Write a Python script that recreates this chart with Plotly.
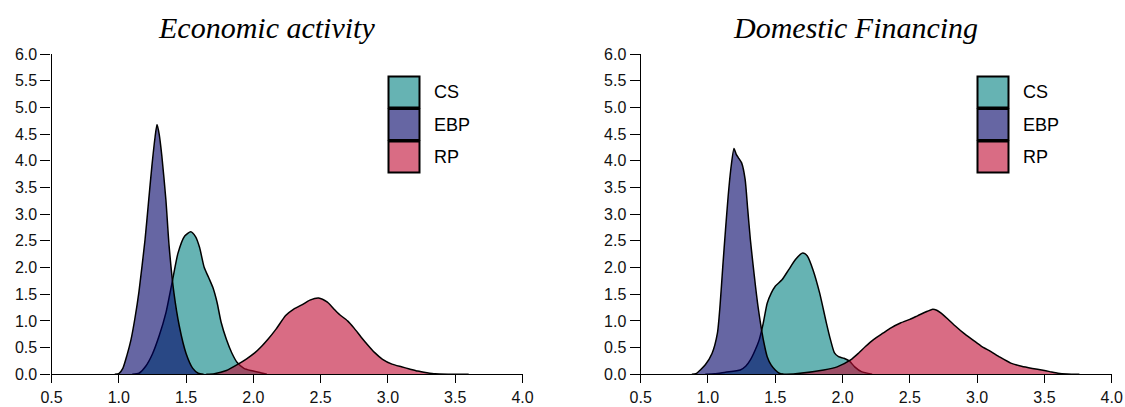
import plotly.graph_objects as go

W, H = 1125, 407

series = ["CS", "EBP", "RP"]
panel_titles = ["Economic activity", "Domestic Financing"]
x_ticks = [0.5, 1.0, 1.5, 2.0, 2.5, 3.0, 3.5, 4.0]
y_ticks = [0.0, 0.5, 1.0, 1.5, 2.0, 2.5, 3.0, 3.5, 4.0, 4.5, 5.0, 5.5, 6.0]

# ---- Economic activity (posterior densities) ----
ea_cs_x = [1.10, 1.15, 1.20, 1.25, 1.30, 1.35, 1.40, 1.44, 1.49, 1.535, 1.57, 1.60, 1.635, 1.67,
           1.70, 1.73, 1.76, 1.80, 1.84, 1.88, 1.93, 1.98, 2.04, 2.10]
ea_cs_y = [0.0, 0.02, 0.15, 0.38, 0.72, 1.15, 1.77, 2.27, 2.59, 2.67, 2.58, 2.38, 2.00, 1.80,
           1.62, 1.35, 0.98, 0.65, 0.40, 0.22, 0.11, 0.07, 0.04, 0.0]
ea_ebp_x = [0.97, 1.00, 1.03, 1.06, 1.09, 1.12, 1.15, 1.195, 1.22, 1.246, 1.27, 1.284, 1.30, 1.32,
            1.35, 1.374, 1.41, 1.45, 1.50, 1.55, 1.59, 1.63]
ea_ebp_y = [0.0, 0.01, 0.11, 0.35, 0.64, 1.05, 1.55, 2.52, 3.20, 3.90, 4.45, 4.68, 4.50, 4.09,
            3.27, 2.40, 1.52, 0.90, 0.39, 0.11, 0.02, 0.0]
ea_rp_x = [1.65, 1.71, 1.80, 1.88, 1.95, 2.01, 2.06, 2.11, 2.17, 2.24, 2.30, 2.36, 2.42, 2.485,
           2.55, 2.60, 2.64, 2.70, 2.75, 2.80, 2.85, 2.90, 2.96, 3.03, 3.10, 3.16, 3.22, 3.29,
           3.35, 3.45, 3.60]
ea_rp_y = [0.0, 0.01, 0.07, 0.18, 0.29, 0.40, 0.52, 0.66, 0.85, 1.10, 1.22, 1.30, 1.39, 1.43,
           1.35, 1.22, 1.12, 1.00, 0.86, 0.70, 0.55, 0.41, 0.28, 0.19, 0.14, 0.10, 0.06, 0.03,
           0.01, 0.003, 0.0]

# ---- Domestic Financing ----
df_cs_x = [0.98, 1.05, 1.13, 1.24, 1.28, 1.315, 1.35, 1.38, 1.41, 1.44, 1.47, 1.50, 1.55, 1.60,
           1.65, 1.70, 1.72, 1.74, 1.78, 1.83, 1.88, 1.91, 1.94, 1.97, 2.01, 2.05, 2.09, 2.14, 2.22]
df_cs_y = [0.0, 0.01, 0.04, 0.08, 0.15, 0.27, 0.45, 0.64, 0.95, 1.33, 1.52, 1.65, 1.77, 1.96,
           2.15, 2.27, 2.26, 2.21, 1.96, 1.52, 0.96, 0.65, 0.40, 0.33, 0.30, 0.25, 0.14, 0.05, 0.0]
df_ebp_x = [0.88, 0.91, 0.98, 1.03, 1.07, 1.09, 1.11, 1.13, 1.15, 1.17, 1.193, 1.21, 1.225, 1.25,
            1.276, 1.295, 1.315, 1.335, 1.353, 1.37, 1.39, 1.415, 1.44, 1.47, 1.50, 1.53, 1.56]
df_ebp_y = [0.0, 0.01, 0.18, 0.39, 0.77, 1.30, 2.02, 2.70, 3.34, 3.85, 4.23, 4.12, 4.06, 3.96,
            3.65, 3.10, 2.52, 2.05, 1.65, 1.30, 0.96, 0.60, 0.33, 0.17, 0.08, 0.02, 0.0]
df_rp_x = [1.55, 1.65, 1.86, 1.96, 2.06, 2.12, 2.17, 2.23, 2.30, 2.36, 2.43, 2.50, 2.56, 2.63,
           2.67, 2.70, 2.73, 2.78, 2.84, 2.90, 2.97, 3.03, 3.10, 3.17, 3.25, 3.33, 3.41, 3.48,
           3.54, 3.60, 3.67, 3.76]
df_rp_y = [0.0, 0.01, 0.08, 0.14, 0.27, 0.40, 0.52, 0.65, 0.77, 0.87, 0.96, 1.03, 1.10, 1.18,
           1.22, 1.20, 1.15, 1.04, 0.90, 0.77, 0.64, 0.53, 0.43, 0.32, 0.21, 0.15, 0.11, 0.08,
           0.05, 0.02, 0.005, 0.0]

panels = [
    {"CS": (ea_cs_x, ea_cs_y), "EBP": (ea_ebp_x, ea_ebp_y), "RP": (ea_rp_x, ea_rp_y)},
    {"CS": (df_cs_x, df_cs_y), "EBP": (df_ebp_x, df_ebp_y), "RP": (df_rp_x, df_rp_y)},
]

fill_colors = {"CS": "rgba(0,128,128,0.6)", "EBP": "rgba(0,0,102,0.6)", "RP": "rgba(192,10,50,0.6)"}

# pixel layout helpers
def px(x):
    return x / W

def py(y):
    return 1 - y / H

x_domains = [(51.5, 522.5), (640.7, 1111.7)]
y_top, y_bot = 54.0, 374.3

fig = go.Figure()
axis_font = dict(family="Liberation Sans, Arial, sans-serif", size=16, color="#111111")

for i, data in enumerate(panels):
    xa = "x" if i == 0 else "x2"
    ya = "y" if i == 0 else "y2"
    for s in series:
        xs, ys = data[s]
        fig.add_trace(go.Scatter(
            x=xs, y=ys, xaxis=xa, yaxis=ya, mode="lines",
            line=dict(color="black", width=1.5, shape="spline", smoothing=0.6),
            fill="tozeroy", fillcolor=fill_colors[s], showlegend=False, hoverinfo="skip",
        ))

common_axis = dict(showline=True, linecolor="black", linewidth=1.3, ticks="outside",
                   tickwidth=1.3, tickcolor="black", showgrid=False,
                   zeroline=False, tickfont=axis_font, automargin=False)

layout_axes = {}
for i, (x0, x1) in enumerate(x_domains):
    sfx = "" if i == 0 else "2"
    layout_axes["xaxis" + sfx] = dict(common_axis, domain=[px(x0), px(x1)], range=[0.5, 4.0],
                                      tickvals=x_ticks, tickformat=".1f", ticklen=8,
                                      anchor="y" + sfx)
    layout_axes["yaxis" + sfx] = dict(common_axis, domain=[py(y_bot), py(y_top)], range=[0, 6],
                                      tickvals=y_ticks, tickformat=".1f", ticklen=10,
                                      anchor="x" + sfx)

fig.update_layout(
    width=W, height=H, margin=dict(l=0, r=0, t=0, b=0),
    paper_bgcolor="white", plot_bgcolor="white", showlegend=False,
    **layout_axes,
)

# titles
title_centers = [266, 856]
for t, cx in zip(panel_titles, title_centers):
    fig.add_annotation(text=t, x=px(cx), y=py(27), xref="paper", yref="paper",
                       xanchor="center", yanchor="middle", showarrow=False,
                       font=dict(family="Liberation Serif, Times New Roman, serif", size=30,
                                 color="black", style="italic"))

# legends (boxes + labels), one per panel
leg_box_left = [388.5, 977.5]
box_w, box_h, step, top0 = 31, 31, 32.5, 76.5
for bx in leg_box_left:
    for k, s in enumerate(series):
        y0 = top0 + k * step
        fig.add_shape(type="rect", xref="paper", yref="paper",
                      x0=px(bx), x1=px(bx + box_w), y0=py(y0 + box_h), y1=py(y0),
                      fillcolor=fill_colors[s], line=dict(color="black", width=2))
        fig.add_annotation(text=s, x=px(bx + 43), y=py(y0 + box_h / 2), xref="paper", yref="paper",
                           xanchor="left", yanchor="middle", showarrow=False,
                           font=dict(family="Liberation Sans, Arial, sans-serif", size=18, color="black"))

fig.write_html("out.html", config={"displayModeBar": False},
               post_script="document.body.style.margin='0';")
